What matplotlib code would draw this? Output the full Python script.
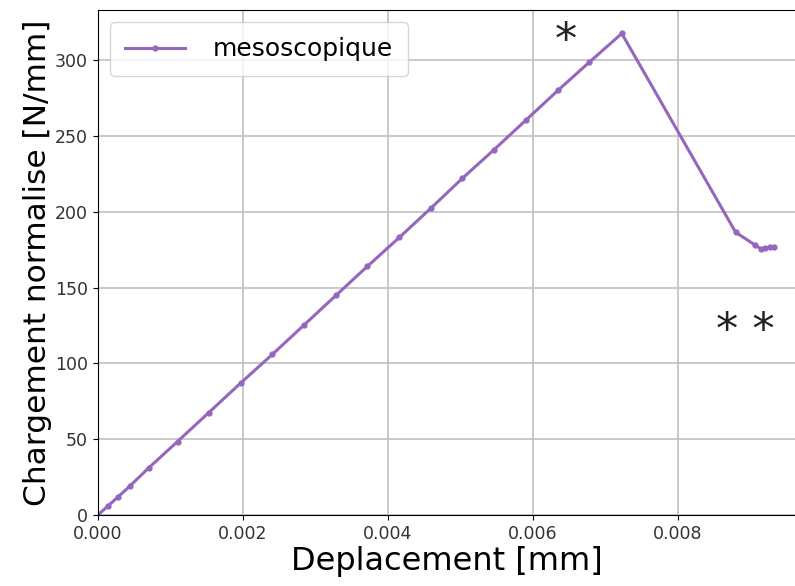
import matplotlib

matplotlib.use("Agg")
import matplotlib.pyplot as plt  # noqa: E402

# displacement [mm] and normalised load [N/mm]
deplacement = [0.0, 0.00014, 0.00028, 0.00044, 0.00070, 0.00110, 0.00153, 0.00197,
               0.00241, 0.00285, 0.00329, 0.00372, 0.00416, 0.00460, 0.00503,
               0.00547, 0.00591, 0.00635, 0.00678, 0.00723,
               0.00880, 0.00907, 0.00915, 0.00920, 0.00928, 0.00933]
chargement = [0.0, 6.0, 12.0, 19.0, 31.0, 48.5, 67.5, 87.0,
              106.0, 125.5, 145.0, 164.0, 183.0, 202.5, 222.0,
              241.0, 260.5, 280.0, 298.5, 317.5,
              186.5, 178.0, 175.5, 176.0, 176.5, 176.5]

fig = plt.figure(figsize=(7.95, 5.86), dpi=100)
ax = fig.add_axes([0.123, 0.121, 0.877, 0.862])

ax.plot(deplacement, chargement, color="#9467bd", linewidth=2.2,
        marker="o", markersize=3.5, label="mesoscopique")

ax.text(0.00646, 312, "*", fontsize=32, ha="center", va="center", color="#222222")
ax.text(0.00893, 121, "* *", fontsize=32, ha="center", va="center", color="#222222")

ax.set_xlim(0, 0.00962)
ax.set_ylim(0, 333)
ax.set_xticks([0.0, 0.002, 0.004, 0.006, 0.008])
ax.set_xticklabels(["0.000", "0.002", "0.004", "0.006", "0.008"])
ax.set_yticks([0, 50, 100, 150, 200, 250, 300])
ax.tick_params(labelsize=12.5, labelcolor="#333333")
ax.grid(True, color="#c0c0c0", linewidth=1.2)
ax.spines["right"].set_visible(False)

ax.set_xlabel("Deplacement [mm]", fontsize=23, labelpad=2)
ax.set_ylabel("Chargement normalise [N/mm]", fontsize=22.5, labelpad=2)
ax.legend(loc="upper left", fontsize=18, handlelength=2.4, handletextpad=1.1,
          borderpad=0.6)

fig.savefig("out.png", dpi=100)
plt.close(fig)
